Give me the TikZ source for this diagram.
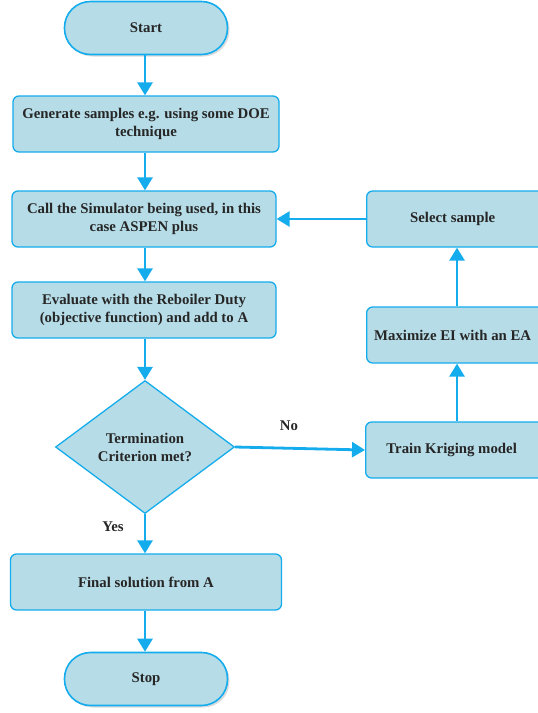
\documentclass[tikz,border=0pt]{standalone}
\usepackage{fontspec}
\setmainfont{Liberation Serif}
\usetikzlibrary{arrows.meta,shapes.geometric,shadows}
\definecolor{fc}{RGB}{182,220,231}
\definecolor{bc}{RGB}{20,172,236}
\tikzset{
  txt/.style={font=\bfseries\fontsize{14.8}{18}\selectfont, align=center, text=black!85},
  procbox/.style={txt, draw=bc, fill=fc, line width=1.3pt, rounded corners=6pt, minimum width=#1, minimum height=56pt, inner sep=0pt},
  termbox/.style={txt, draw=bc, fill=fc, line width=1.6pt, rounded corners=26pt, minimum width=163pt, minimum height=53pt, inner sep=0pt, drop shadow={shadow xshift=2pt, shadow yshift=-2pt, opacity=0.35, fill=black!40}},
  decbox/.style={txt, draw=bc, fill=fc, line width=1.3pt, diamond, minimum width=179pt, minimum height=133pt, inner sep=0pt},
  flow/.style={draw=bc, line width=2.8pt, -{Triangle[length=13pt,width=15pt]}},
  lbl/.style={font=\bfseries\fontsize{14.8}{18}\selectfont, text=black!85}
}
\begin{document}
\begin{tikzpicture}[x=1pt,y=-1pt]
\useasboundingbox (0,0) rectangle (538,713);
\clip (0,0) rectangle (538,713);
\node[termbox] (start) at (146,28) {Start};
\node[procbox=266pt] (gen) at (146,124) {Generate samples e.g. using some DOE\\technique};
\node[procbox=264pt] (call) at (144,219) {Call the Simulator being used, in this\\case ASPEN plus};
\node[procbox=264pt] (eval) at (144,310) {Evaluate with the Reboiler Duty\\(objective function) and add to A};
\node[decbox] (dec) at (145,447) {Termination\\Criterion met?};
\node[procbox=271pt] (fin) at (146,582) {Final solution from A};
\node[termbox] (stop) at (146,679) {Stop};
\node[procbox=190pt, anchor=west] (sel) at (366,219) {\hspace*{-18pt}Select sample};
\node[procbox=190pt, anchor=west] (max) at (366,335) {\hspace*{-18pt}Maximize EI with an EA};
\node[procbox=190pt, anchor=west] (train) at (365,450) {\hspace*{-18pt}Train Kriging model};
\coordinate (tx) at (457,0);
\coordinate (cx) at (145,0);
\draw[flow] (start.south -| cx) -- (gen.north -| cx);
\draw[flow] (gen.south -| cx) -- (call.north -| cx);
\draw[flow] (call.south -| cx) -- (eval.north -| cx);
\draw[flow] (eval.south -| cx) -- (dec.north);
\draw[flow] (dec.south) -- (fin.north -| cx);
\draw[flow] (fin.south -| cx) -- (stop.north -| cx);
\draw[flow] (dec.east) -- (train.west);
\draw[flow] (train.north -| tx) -- (max.south -| tx);
\draw[flow] (max.north -| tx) -- (sel.south -| tx);
\draw[flow] (sel.west) -- (call.east);
\node[lbl] (no) at (289,426) {No};
\node[lbl] (yes) at (113,527) {Yes};
\end{tikzpicture}
\end{document}
